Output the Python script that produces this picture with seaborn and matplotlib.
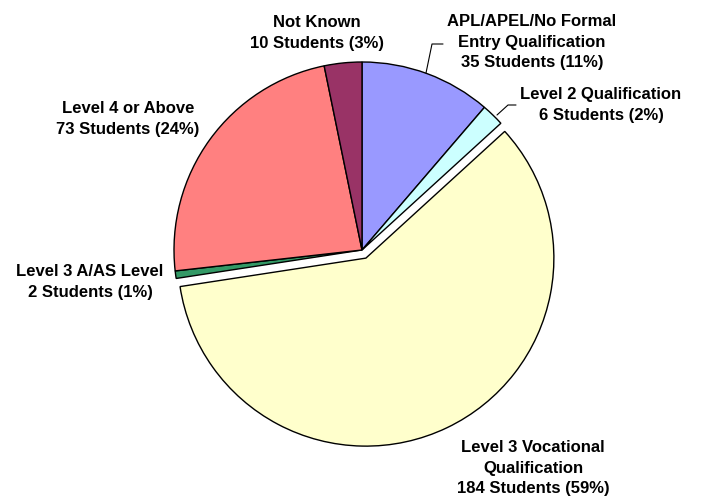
import matplotlib
matplotlib.use("Agg")
import matplotlib.pyplot as plt
import seaborn as sns

# data (clockwise from 12 o'clock)
categories = [
    "APL/APEL/No Formal\nEntry Qualification",
    "Level 2 Qualification",
    "Level 3 Vocational\nQualification",
    "Level 3 A/AS Level",
    "Level 4 or Above",
    "Not Known",
]
students = [35, 6, 184, 2, 73, 10]
colors = ["#9999FF", "#CCFFFF", "#FFFFCC", "#339966", "#FF8080", "#993366"]
exploded = [0, 0, 1, 0, 0, 0]

sns.set_theme(style="white")
plt.rcParams["font.family"] = ["Liberation Sans", "DejaVu Sans"]

fig = plt.figure(figsize=(7.02, 4.98), dpi=100)
ax = fig.add_axes([0, 0, 1, 1])

# explode offset is in data units (pixels here)
wedges, _ = ax.pie(
    students,
    colors=colors,
    explode=[e * 9 for e in exploded],
    startangle=90,
    counterclock=False,
    center=(362, 248),
    radius=188,
    wedgeprops=dict(edgecolor="black", linewidth=1),
)

# pie() resets the limits, so set the pixel frame afterwards
ax.set_xlim(0, 702)
ax.set_ylim(0, 498)
ax.set_aspect("equal")
ax.axis("off")

total = sum(students)
labels = [f"{c}\n{n} Students ({round(100 * n / total):.0f}%)" for c, n in zip(categories, students)]

# label centres in pixel space (x, y from top)
label_pos = [(532, 42), (601, 105), (533, 468), (90, 282), (128, 119), (317, 33)]
for lab, (x, y) in zip(labels, label_pos):
    ax.text(x, 498 - y, lab, ha="center", va="center", fontsize=12,
            fontweight="bold", linespacing=1.45, color="black")

# leader lines
ax.plot([426, 432, 443], [498 - 73, 498 - 44, 498 - 44], color="black", lw=0.8)
ax.plot([497, 508, 516], [498 - 115, 498 - 105, 498 - 105], color="black", lw=0.8)

fig.savefig("out.png", dpi=100, facecolor="white")
